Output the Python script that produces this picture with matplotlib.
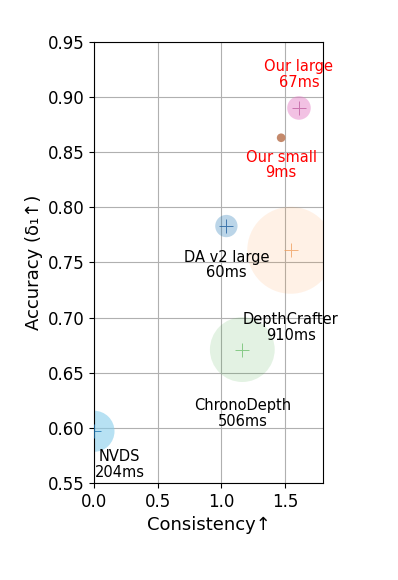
import matplotlib
matplotlib.use('Agg')
import matplotlib.pyplot as plt

# method data
names = ['Our large', 'Our small', 'DA v2 large', 'DepthCrafter', 'ChronoDepth', 'NVDS']
consistency = [1.61, 1.47, 1.04, 1.545, 1.165, 0.0]
accuracy = [0.890, 0.863, 0.783, 0.761, 0.671, 0.597]
latency = [67, 9, 60, 910, 506, 204]
colors = ['#e377c2', '#c4896b', '#1f77b4', '#ff7f0e', '#2ca02c', '#87ceeb']
plus_colors = ['#c060a0', None, '#1f5f9f', '#f0a060', '#70c070', '#1f77b4']
alphas = [0.45, 1.0, 0.3, 0.1, 0.13, 0.6]
label_colors = ['red', 'red', 'black', 'black', 'black', 'black']
label_offsets = [(0, 24), (0, -19.5), (0, -28), (0, -55.5), (0, -46), (18.5, -24)]

fig = plt.figure(figsize=(3.98, 5.8), dpi=100)
ax = fig.add_axes([0.236, 0.167, 0.576, 0.761])

for i in range(len(names)):
    ax.scatter(consistency[i], accuracy[i], s=latency[i]*4.3, color=colors[i],
               alpha=alphas[i], edgecolors='none', zorder=2)
    if plus_colors[i] is not None:
        ax.scatter(consistency[i], accuracy[i], s=90, marker='+', color=plus_colors[i],
                   linewidths=0.7, alpha=0.8, zorder=3)
    ax.annotate('%s\n%dms' % (names[i], latency[i]), (consistency[i], accuracy[i]),
                xytext=label_offsets[i], textcoords='offset points', ha='center', va='center',
                fontsize=10.5, color=label_colors[i], linespacing=1.05, annotation_clip=False)

ax.set_xlim(0, 1.8)
ax.set_ylim(0.55, 0.95)
ax.set_xticks([0.0, 0.5, 1.0, 1.5])
ax.set_yticks([0.55, 0.6, 0.65, 0.7, 0.75, 0.8, 0.85, 0.9, 0.95])
ax.tick_params(labelsize=12)
ax.grid(True, zorder=0)
ax.set_axisbelow(True)
ax.set_xlabel('Consistency↑', fontsize=13)
ax.set_ylabel('Accuracy (δ₁↑)', fontsize=13, labelpad=3)

plt.savefig('out.png', dpi=100)
plt.close()
